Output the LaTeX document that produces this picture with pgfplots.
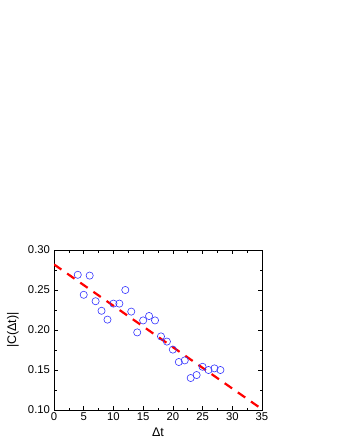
\documentclass[border=0pt]{standalone}
\usepackage{pgfplots}
\pgfplotsset{compat=1.18}
\usepackage{fontspec}
\setmainfont{Liberation Sans}
\begin{document}
\begin{tikzpicture}[x=1pt,y=1pt]
\path[use as bounding box] (0,0) rectangle (346,448);
\begin{axis}[
  at={(54pt,38pt)}, anchor=south west,
  scale only axis, width=208pt, height=160pt,
  xmin=0, xmax=35, ymin=0.10, ymax=0.30,
  xtick={0,5,...,35}, ytick={0.10,0.15,...,0.30},
  minor x tick num=1, minor y tick num=1,
  tick align=inside, tick pos=both,
  major tick length=4pt, minor tick length=2.5pt,
  axis line style={line width=0.8pt},
  every tick/.style={line width=0.6pt, black},
  yticklabel style={xshift=-0.5pt, /pgf/number format/.cd, fixed, fixed zerofill, precision=2},
  /pgf/number format/assume math mode=true,
  tick label style={font=\fontsize{11.3}{13}\selectfont},
  xticklabel style={yshift=1pt},
  label style={font=\fontsize{12.5}{14}\selectfont},
  xlabel={Δt}, ylabel={|C(Δt)|},
  xlabel style={at={(axis description cs:0.5,0)}, anchor=center, yshift=-22pt},
  ylabel style={at={(axis description cs:0,0.5)}, anchor=center, yshift=41pt},
]
\addplot[red, line width=2.2pt, dash pattern=on 9pt off 7pt] coordinates {(0,0.282) (35,0.101)};
\addplot[only marks, mark=o, mark size=3.6pt, mark options={blue!80!white, line width=0.6pt}] coordinates {
(4,0.269) (5,0.244) (6,0.268) (7,0.236) (8,0.224) (9,0.213) (10,0.233) (11,0.233)
(12,0.250) (13,0.223) (14,0.197) (15,0.212) (16,0.2175) (17,0.212) (18,0.192)
(19,0.1855) (20,0.1755) (21,0.160) (22,0.162) (23,0.140) (24,0.1437) (25,0.154)
(26,0.150) (27,0.152) (28,0.150)};
\end{axis}
\end{tikzpicture}
\end{document}
